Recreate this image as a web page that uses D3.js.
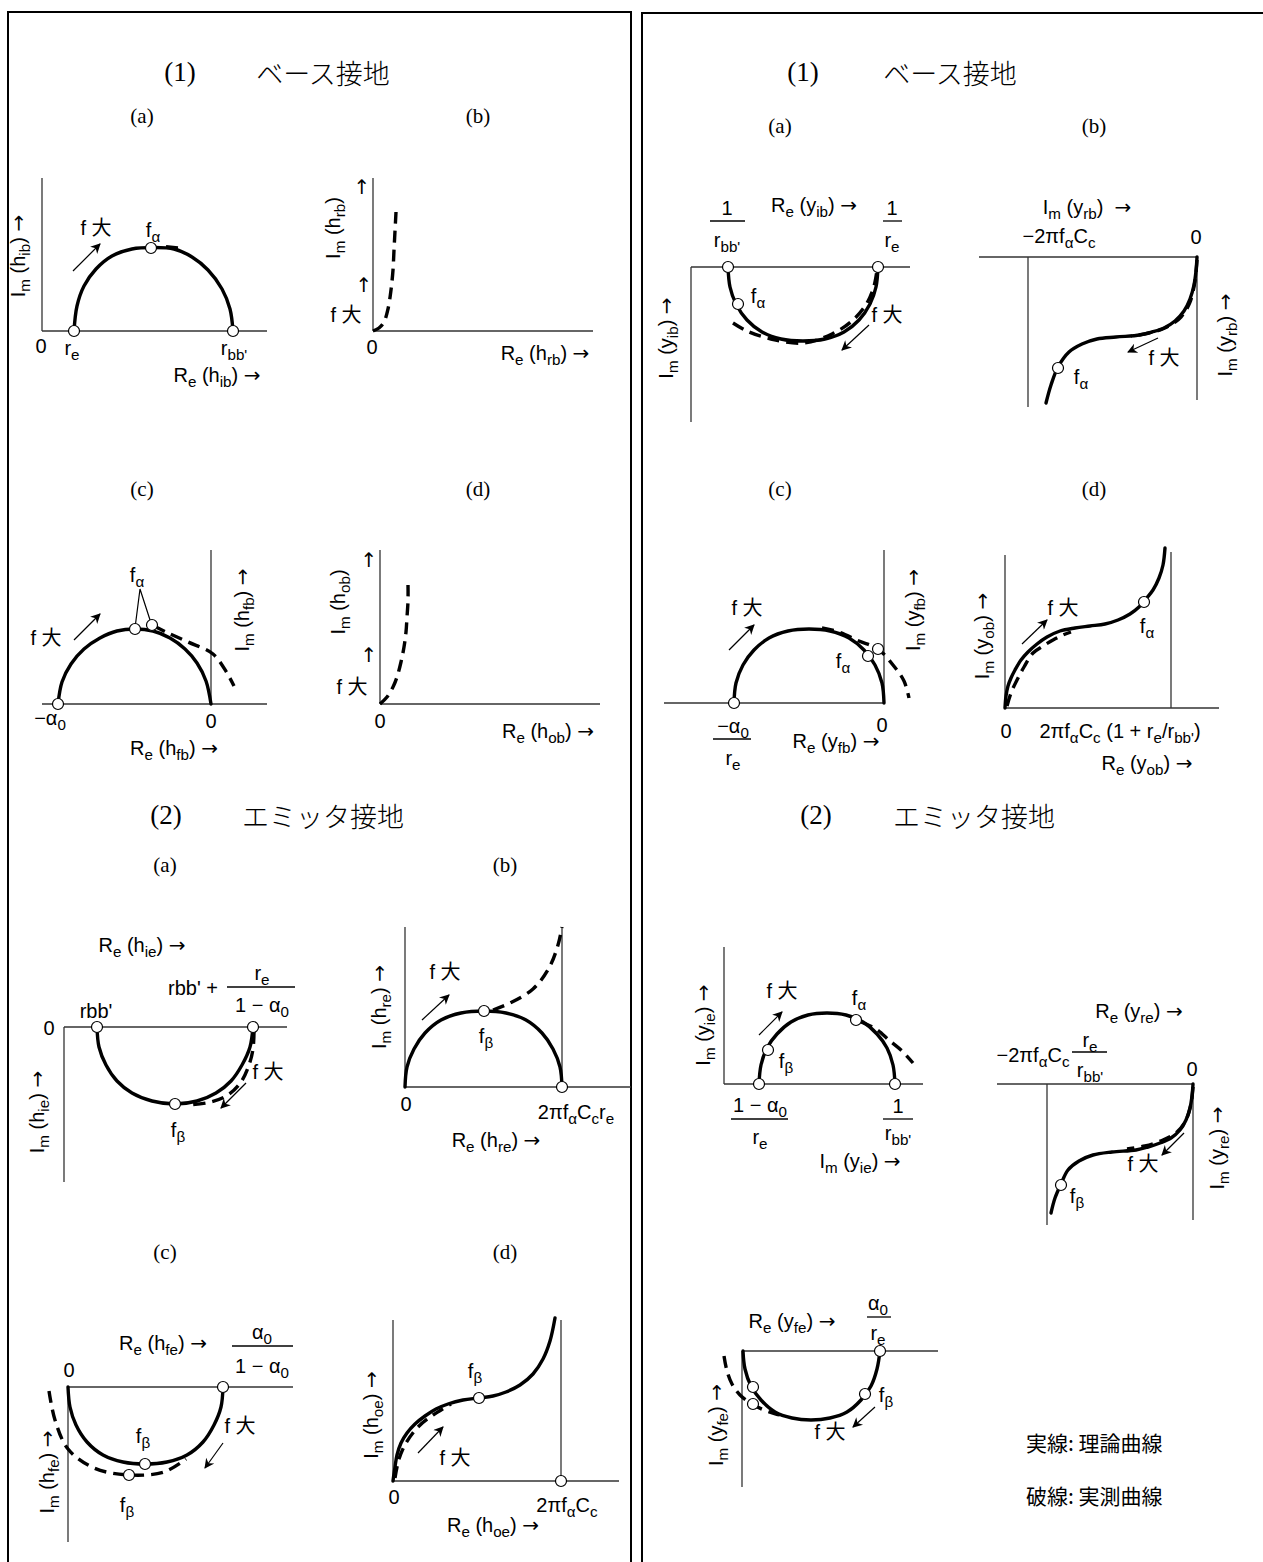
<!DOCTYPE html>
<html><head><meta charset="utf-8">
<script src="https://cdn.jsdelivr.net/npm/d3@7"></script>
<style>html,body{margin:0;padding:0;background:#fff;}</style>
</head><body>
<script>
// ====== DATA (curve points per sub-figure, in each figure's own units; origin = axis crossing) ======
// (1) common-base, h parameters
const hibTheory   = [[32,0],[35,25],[42,45],[54,62],[70,75],[90,82],[111,83.5],[132,82],[150,74],[166,61],[180,42],[188,22],[191,0]];
const hibMeasured = [[124,84.3],[136,83]];
const hibPoints   = [[32,0],[109,83],[191,0]];

const hrbMeasured = [[0,0],[6,3],[11,9],[15,22],[18,41],[20,61],[21,81],[22,100],[23,119]];

const hfbTheory   = [[-153,0],[-149,22],[-140,40],[-127,55],[-111,66],[-94,73],[-76,75],[-58,73],[-41,66],[-26,55],[-14,41],[-5,23],[0,0]];
const hfbMeasured = [[-57,78],[-45,72],[-23,62],[2,50],[16,31],[23,18]];
const hfbPoints   = [[-153,0],[-76,75],[-59,79]];

const hobMeasured = [[0,0],[7,7],[13,17],[17,27],[21,42],[24,57],[26,72],[27,87],[28,103],[28,119]];

// (2) common-emitter, h parameters
const hieTheory   = [[33,0],[35,-20],[42,-38],[53,-54],[68,-66],[88,-74],[111,-77],[133,-74],[152,-66],[167,-54],[178,-38],[186,-20],[189,0]];
const hieMeasured = [[190,-5],[189,-22],[185,-38],[177,-55],[164,-68],[147,-75],[125,-78]];
const hiePoints   = [[33,0],[111,-77],[189,0]];

const hreTheory   = [[0,0],[2,20],[9,38],[20,54],[36,67],[56,74],[79,76],[101,74],[121,67],[137,54],[148,38],[155,20],[157,0]];
const hreMeasured = [[88,77],[105,84],[128,98],[144,119],[153,142],[157,160]];
const hrePoints   = [[79,76],[157,0]];

const hfeTheory   = [[0,0],[2,-20],[8,-38],[19,-55],[35,-68],[55,-75],[77,-77],[99,-75],[119,-68],[135,-55],[146,-38],[153,-20],[155,0]];
const hfeMeasured = [[-19,-4],[-13,-33],[0,-62],[26,-81],[61,-88],[96,-85],[118,-72]];
const hfePoints   = [[155,0],[77,-77],[61,-88]];

const hoeTheory   = [[0,0],[2,14],[4,26],[8,38],[14,48],[22,57],[32,65],[43,72],[55,77],[70,81],[86,83],[100,85],[113,89],[127,96],[140,107],[150,122],[157,140],[162,163]];
const hoeMeasured = [[2,3],[6,22],[13,38],[25,54],[40,66],[58,77]];
const hoePoints   = [[86,83],[168,0]];

// (1) common-base, y parameters
const yibTheory   = [[37,0],[39,-20],[45,-37],[56,-53],[71,-65],[90,-72],[112,-74],[134,-72],[153,-65],[168,-53],[179,-37],[185,-20],[187,0]];
const yibMeasured = [[42,-56],[56,-64],[80,-72],[112,-76],[141,-67],[162,-53],[176,-36],[183,-19],[186,-3]];
const yibPoints   = [[37,0],[47,-37],[187,0]];

const yrbTheory   = [[0,0],[-1,-14],[-3,-28],[-7,-42],[-13,-54],[-22,-64],[-33,-71],[-45,-75],[-57,-78],[-81,-80],[-100,-82],[-115,-87],[-128,-95],[-139,-110],[-146,-128],[-151,-146]];
const yrbMeasured = [[0,-3],[-2,-24],[-7,-45],[-16,-60],[-30,-70],[-48,-76],[-66,-79]];
const yrbPoints   = [[-139,-111]];

const yfbTheory   = [[-150,0],[-148,20],[-141,38],[-130,53],[-115,65],[-96,72],[-75,74],[-54,72],[-35,65],[-20,53],[-9,38],[-2,20],[0,0]];
const yfbMeasured = [[-62,75],[-45,71],[-25,62],[-6,54],[9,38],[20,22],[25,5]];
const yfbPoints   = [[-150,0],[-16,47],[-6,54]];

const yobTheory   = [[0,0],[1,12],[3,22],[6,30],[10,38],[16,48],[23,56],[32,64],[42,71],[55,77],[70,80],[85,82],[100,84],[113,88],[125,94],[134,101],[140,108],[148,118],[154,130],[158,143],[160,160]];
const yobMeasured = [[2,2],[6,15],[12,28],[19,41],[28,55],[38,62],[48,68],[58,73],[66,76]];
const yobPoints   = [[139,106]];

// (2) common-emitter, y parameters
const yieTheory   = [[35,0],[37,19],[43,36],[53,50],[67,62],[84,69],[103,71],[122,69],[139,62],[153,50],[163,36],[169,19],[171,0]];
const yieMeasured = [[137,62],[152,55],[166,43],[178,33],[189,21]];
const yiePoints   = [[35,0],[44,34],[132,64],[171,0]];

const yreTheory   = [[0,0],[-1,-12],[-3,-24],[-7,-36],[-13,-46],[-22,-54],[-33,-59],[-45,-63],[-57,-66],[-81,-68],[-100,-71],[-114,-77],[-125,-86],[-132,-100],[-138,-114],[-142,-129]];
const yreMeasured = [[0,-3],[-2,-20],[-7,-36],[-16,-48],[-30,-56],[-48,-62],[-66,-65]];
const yrePoints   = [[-132,-101]];

const yfeTheory   = [[1,0],[3,-18],[9,-35],[19,-49],[33,-61],[50,-67],[69,-69],[88,-67],[105,-61],[119,-49],[129,-35],[135,-18],[138,0]];
const yfeMeasured = [[-18,-5],[-15,-20],[-10,-33],[-2,-44],[10,-53],[22,-59],[34,-63],[44,-65]];
const yfePoints   = [[138,0],[11,-36],[123,-43],[11,-53]];

const legendLabels = ["実線: 理論曲線", "破線: 実測曲線"];

// ====== DRAWING ======
const W = 1263, H = 1562;
const SANS = "'Liberation Sans', Arial, 'Noto Sans CJK JP', sans-serif";
const SERIF = "'Liberation Serif', 'DejaVu Serif', serif";
const JP = "'Noto Sans CJK JP', sans-serif";
const ARROWFONT = "'DejaVu Sans', sans-serif";

const svg = d3.select("body").append("svg").attr("width", W).attr("height", H)
  .style("display","block").style("background","#fff");

const defs = svg.append("defs");
defs.append("marker").attr("id","ah").attr("viewBox","0 0 10 10").attr("refX",9).attr("refY",5)
  .attr("markerWidth",13).attr("markerHeight",10).attr("markerUnits","userSpaceOnUse").attr("orient","auto")
  .append("path").attr("d","M0,0 L10,5 L0,10 L3,5 Z").attr("fill","#000");

// frames
svg.append("rect").attr("x",8).attr("y",12).attr("width",623).attr("height",1570)
  .attr("fill","none").attr("stroke","#000").attr("stroke-width",2);
svg.append("path").attr("d","M642,1582 L642,13 L1270,13").attr("fill","none").attr("stroke","#000").attr("stroke-width",2);

function panel(ox, oy){
  return { x: d3.scaleLinear().domain([0,100]).range([ox, ox+100]),
           y: d3.scaleLinear().domain([0,100]).range([oy, oy-100]) };
}
function hline(p, x1, x2, y=0){
  svg.append("line").attr("x1",p.x(x1)).attr("x2",p.x(x2)).attr("y1",p.y(y)).attr("y2",p.y(y))
    .attr("stroke","#333").attr("stroke-width",1.3);
}
function vline(p, x, y1, y2){
  svg.append("line").attr("x1",p.x(x)).attr("x2",p.x(x)).attr("y1",p.y(y1)).attr("y2",p.y(y2))
    .attr("stroke","#333").attr("stroke-width",1.3);
}
function curve(p, data, dashed){
  const ln = d3.line().x(d=>p.x(d[0])).y(d=>p.y(d[1])).curve(d3.curveCatmullRom.alpha(0.5));
  svg.append("path").datum(data).attr("d", ln).attr("fill","none").attr("stroke","#000")
    .attr("stroke-width", 3.4).attr("stroke-linecap", dashed ? "butt" : "round")
    .attr("stroke-dasharray", dashed ? "12,7" : null);
}
function points(p, data){
  svg.append("g").selectAll("circle").data(data).enter().append("circle")
    .attr("cx", d=>p.x(d[0])).attr("cy", d=>p.y(d[1])).attr("r", 5.5)
    .attr("fill","#fff").attr("stroke","#000").attr("stroke-width",1.2);
}
function rich(t, str, size){
  const re = /\{([^}]*)\}/g; let last = 0, m; const segs = [];
  while ((m = re.exec(str))) { if (m.index > last) segs.push([str.slice(last, m.index), false]); segs.push([m[1], true]); last = re.lastIndex; }
  if (last < str.length) segs.push([str.slice(last), false]);
  let down = false;
  segs.forEach(([s, sub]) => {
    if (sub) {
      const ts = t.append("tspan").text(s).attr("font-size", size*0.76);
      if(!down){ ts.attr("dy", size*0.3); down = true; }
    } else {
      s.split(/([→↑])/).filter(x=>x.length).forEach((piece) => {
        const ts = t.append("tspan").text(piece).attr("font-size", size);
        if (piece === "→" || piece === "↑") ts.attr("font-family", ARROWFONT);
        if (down) { ts.attr("dy", -size*0.3); down = false; }
      });
    }
  });
}
function label(x, y, str, o={}){
  const size = o.size || 20;
  const t = svg.append("text").attr("x",x).attr("y",y).attr("text-anchor", o.anchor || "middle")
    .attr("dominant-baseline","central").attr("font-family", o.font || SANS).attr("font-size", size)
    .attr("fill","#000").attr("xml:space","preserve");
  if (o.weight) t.attr("font-weight", o.weight);
  if (o.rot) t.attr("transform", `rotate(-90 ${x} ${y})`);
  rich(t, str, size);
}
function frac(cx, yn, yb, yd, x1, x2, num, den, size=20){
  label(cx, yn, num, {size});
  svg.append("line").attr("x1",x1).attr("x2",x2).attr("y1",yb).attr("y2",yb).attr("stroke","#000").attr("stroke-width",1.3);
  label(cx, yd, den, {size});
}
function arrow(x1,y1,x2,y2){
  svg.append("line").attr("x1",x1).attr("y1",y1).attr("x2",x2).attr("y2",y2)
    .attr("stroke","#000").attr("stroke-width",1.2).attr("marker-end","url(#ah)");
}
function title(xn, xj, y, num, jp){
  label(xn, y, num, {font: SERIF, size: 27});
  label(xj, y, jp, {font: JP, size: 27, weight: 300});
}
function sub(x, y, s){ label(x, y, s, {font: SERIF, size: 21}); }

// ---------- titles ----------
title(180, 323, 72, "(1)", "ベース接地");
sub(142,116,"(a)"); sub(478,116,"(b)"); sub(142,489,"(c)"); sub(478,489,"(d)");
title(166, 323, 815, "(2)", "エミッタ接地");
sub(165,865,"(a)"); sub(505,865,"(b)"); sub(165,1252,"(c)"); sub(505,1252,"(d)");

title(803, 950, 72, "(1)", "ベース接地");
sub(780,126,"(a)"); sub(1094,126,"(b)"); sub(780,489,"(c)"); sub(1094,489,"(d)");
title(816, 974, 815, "(2)", "エミッタ接地");

// ---------- (1)(a) h_ib ----------
let p = panel(42, 331);
hline(p, 0, 225); vline(p, 0, 0, 153);
curve(p, hibTheory, false); curve(p, hibMeasured, true); points(p, hibPoints);
label(153,230,"f{α}"); label(96,228,"f 大"); arrow(73,271,100,244);
label(41,346,"0"); label(72,348,"r{e}"); label(234,348,"r{bb'}");
label(217,375,"R{e} (h{ib}) →"); label(18,256,"I{m} (h{ib}) →",{rot:true});

// ---------- (1)(b) h_rb ----------
p = panel(373, 331);
hline(p, 0, 220); vline(p, 0, 0, 153);
curve(p, hrbMeasured, true);
label(333,228,"I{m} (h{rb})",{rot:true}); label(362,187,"↑"); label(364,285,"↑"); label(346,315,"f 大");
label(372,347,"0"); label(545,353,"R{e} (h{rb}) →");

// ---------- (1)(c) h_fb ----------
p = panel(211, 704);
hline(p, -169, 56); vline(p, 0, 0, 154);
curve(p, hfbTheory, false); curve(p, hfbMeasured, true);
svg.append("path").attr("d","M135,628 L140,589 L151,623").attr("fill","none").attr("stroke","#000").attr("stroke-width",1.2);
points(p, hfbPoints);
label(137,575,"f{α}"); label(46,638,"f 大"); arrow(74,640,100,614);
label(50,718,"−α{0}"); label(211,721,"0"); label(174,748,"R{e} (h{fb}) →");
label(242,610,"I{m} (h{fb}) →",{rot:true});

// ---------- (1)(d) h_ob ----------
p = panel(380, 704);
hline(p, 0, 220); vline(p, 0, 0, 154);
curve(p, hobMeasured, true);
label(338,602,"I{m} (h{ob})",{rot:true}); label(369,560,"↑"); label(369,655,"↑"); label(352,687,"f 大");
label(380,721,"0"); label(548,731,"R{e} (h{ob}) →");

// ---------- (2)(a) h_ie ----------
p = panel(64, 1027);
hline(p, 0, 223); vline(p, 0, -155, 0);
curve(p, hieTheory, false); curve(p, hieMeasured, true); points(p, hiePoints);
label(142,945,"R{e} (h{ie}) →"); label(193,988,"rbb' +");
frac(262,973,987,1005,227,295,"r{e}","1 − α{0}");
label(49,1028,"0"); label(96,1011,"rbb'");
label(268,1072,"f 大"); arrow(246,1083,221,1108);
label(178,1130,"f{β}"); label(37,1112,"I{m} (h{ie}) →",{rot:true});

// ---------- (2)(b) h_re ----------
p = panel(405, 1087);
hline(p, 0, 226); vline(p, 0, 0, 160); vline(p, 157, 0, 160);
curve(p, hreTheory, false); curve(p, hreMeasured, true); points(p, hrePoints);
label(445,972,"f 大"); arrow(422,1020,449,995);
label(486,1036,"f{β}"); label(406,1104,"0"); label(576,1112,"2πf{α}C{c}r{e}");
label(496,1140,"R{e} (h{re}) →"); label(379,1007,"I{m} (h{re}) →",{rot:true});

// ---------- (2)(c) h_fe ----------
p = panel(68, 1387);
hline(p, 0, 225); vline(p, 0, -155, 0);
curve(p, hfeTheory, false); curve(p, hfeMeasured, true); points(p, hfePoints);
label(163,1343,"R{e} (h{fe}) →");
frac(262,1332,1346,1366,232,293,"α{0}","1 − α{0}");
label(69,1370,"0"); label(240,1426,"f 大"); arrow(223,1443,205,1468);
label(143,1436,"f{β}"); label(127,1505,"f{β}");
label(47,1472,"I{m} (h{fe}) →",{rot:true});

// ---------- (2)(d) h_oe ----------
p = panel(393, 1481);
hline(p, 0, 226); vline(p, 0, 0, 161); vline(p, 168, 0, 161);
curve(p, hoeTheory, false); curve(p, hoeMeasured, true); points(p, hoePoints);
label(475,1371,"f{β}"); label(455,1458,"f 大"); arrow(418,1453,443,1427);
label(394,1497,"0"); label(567,1505,"2πf{α}C{c}");
label(493,1525,"R{e} (h{oe}) →"); label(371,1415,"I{m} (h{oe}) →",{rot:true});

// ---------- R (1)(a) y_ib ----------
p = panel(691, 267);
hline(p, 0, 219); vline(p, 0, -155, 0);
curve(p, yibTheory, false); curve(p, yibMeasured, true); points(p, yibPoints);
frac(727,208,221,240,710,745,"1","r{bb'}");
label(814,205,"R{e} (y{ib}) →");
frac(892,208,221,240,883,902,"1","r{e}");
label(758,296,"f{α}"); label(887,315,"f 大"); arrow(869,325,842,350);
label(666,338,"I{m} (y{ib}) →",{rot:true});

// ---------- R (1)(b) y_rb ----------
p = panel(1197, 257);
hline(p, -218, 0); vline(p, -169, 0, -150); vline(p, 0, 0, -143);
curve(p, yrbTheory, false); curve(p, yrbMeasured, true); points(p, yrbPoints);
label(1087,207,"I{m} (y{rb})\u00a0\u00a0→"); label(1059,236,"−2πf{α}C{c}"); label(1196,237,"0");
label(1164,358,"f 大"); arrow(1158,338,1128,352);
label(1081,377,"f{α}"); label(1225,335,"I{m} (y{rb}) →",{rot:true});

// ---------- R (1)(c) y_fb ----------
p = panel(884, 703);
hline(p, -220, 0); vline(p, 0, 0, 153);
curve(p, yfbTheory, false); curve(p, yfbMeasured, true); points(p, yfbPoints);
label(747,608,"f 大"); arrow(729,650,754,625);
label(843,661,"f{α}");
frac(733,726,739,758,713,751,"−α{0}","r{e}");
label(882,725,"0"); label(836,741,"R{e} (y{fb}) →");
label(913,610,"I{m} (y{fb}) →",{rot:true});

// ---------- R (1)(d) y_ob ----------
p = panel(1005, 708);
hline(p, 0, 214); vline(p, 0, 0, 153); vline(p, 166, 0, 156);
curve(p, yobTheory, false); curve(p, yobMeasured, true); points(p, yobPoints);
label(1063,608,"f 大"); arrow(1022,644,1047,620);
label(1147,626,"f{α}"); label(1006,731,"0");
label(1120,731,"2πf{α}C{c} (1 + r{e}/r{bb'})");
label(1147,763,"R{e} (y{ob}) →"); label(982,636,"I{m} (y{ob}) →",{rot:true});

// ---------- R (2)(a) y_ie ----------
p = panel(724, 1084);
hline(p, 0, 199); vline(p, 0, 0, 137);
curve(p, yieTheory, false); curve(p, yieMeasured, true); points(p, yiePoints);
label(782,991,"f 大"); arrow(759,1035,782,1012);
label(859,998,"f{α}"); label(786,1061,"f{β}");
frac(760,1105,1119,1137,731,788,"1 − α{0}","r{e}");
frac(898,1106,1119,1133,883,913,"1","r{bb'}");
label(860,1161,"I{m} (y{ie}) →"); label(703,1025,"I{m} (y{ie}) →",{rot:true});

// ---------- R (2)(b) y_re ----------
p = panel(1193, 1084);
hline(p, -196, 0); vline(p, -146, 0, -141); vline(p, 0, 0, -136);
curve(p, yreTheory, false); curve(p, yreMeasured, true); points(p, yrePoints);
label(1139,1011,"R{e} (y{re}) →"); label(1033,1055,"−2πf{α}C{c}");
frac(1090,1040,1052,1070,1072,1107,"r{e}","r{bb'}");
label(1192,1069,"0"); label(1143,1164,"f 大"); arrow(1184,1133,1162,1155);
label(1077,1196,"f{β}"); label(1217,1148,"I{m} (y{re}) →",{rot:true});

// ---------- R (2)(c) y_fe ----------
p = panel(742, 1351);
hline(p, 0, 196); vline(p, 0, -136, 0);
curve(p, yfeTheory, false); curve(p, yfeMeasured, true); points(p, yfePoints);
label(792,1321,"R{e} (y{fe}) →");
frac(878,1303,1317,1333,867,891,"α{0}","r{e}");
label(886,1395,"f{β}"); label(830,1432,"f 大"); arrow(875,1407,853,1427);
label(716,1425,"I{m} (y{fe}) →",{rot:true});

// ---------- legend ----------
svg.append("g").selectAll("text").data(legendLabels).enter().append("text")
  .attr("x",1026).attr("y",(d,i)=>1442 + i*53).attr("dominant-baseline","central")
  .attr("font-family", JP).attr("font-size",21).text(d=>d);
</script>
</body></html>
